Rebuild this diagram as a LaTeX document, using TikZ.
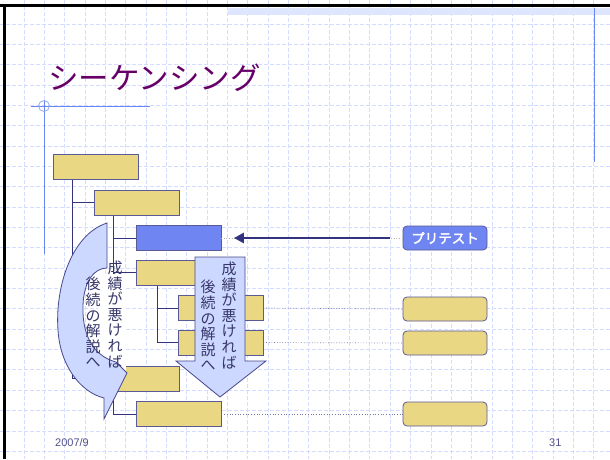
\documentclass[tikz,border=0pt]{standalone}
\usepackage{fontspec}
\setmainfont{Liberation Sans}
\newfontfamily\jp{Noto Sans CJK JP}
\newfontfamily\jpb[FakeBold=2.5]{Noto Sans CJK JP}
\usetikzlibrary{arrows.meta}
\definecolor{tanfill}{RGB}{234,215,132}
\definecolor{boxline}{RGB}{90,90,150}
\definecolor{bluebox}{RGB}{111,134,242}
\definecolor{arrowfill}{RGB}{204,216,255}
\definecolor{arrowline}{RGB}{72,72,140}
\definecolor{connc}{RGB}{51,51,128}
\definecolor{dotc}{RGB}{120,120,165}
\definecolor{titlec}{RGB}{102,0,102}
\definecolor{footc}{RGB}{80,80,140}
\definecolor{gridc}{RGB}{212,220,255}
\definecolor{bandc}{RGB}{222,229,255}
\definecolor{tmplc}{RGB}{105,135,240}
\definecolor{vtextc}{RGB}{55,55,105}
\begin{document}
\begin{tikzpicture}[x=1pt,y=-1pt,
  tanbox/.style={draw=boxline,fill=tanfill,minimum width=84pt,minimum height=24pt,inner sep=0pt,line width=0.8pt},
  rtan/.style={tanbox,rounded corners=4pt},
  conn/.style={draw=connc,line width=0.9pt},
  dotline/.style={draw=dotc,line width=0.7pt,dotted},
  gridline/.style={draw=gridc,line width=1pt,dash pattern=on 4pt off 2pt},
  vtext/.style={font=\jp\fontsize{15}{15.6}\selectfont,text=vtextc,align=center,inner sep=0pt,anchor=south},
  blockarrow/.style={draw=arrowline,fill=arrowfill,line width=0.8pt,line join=miter}]
\useasboundingbox (0,0) rectangle (610,459);
\fill[white] (0,0) rectangle (610,459);
% grid
\foreach \i in {0,...,28} \draw[gridline] ({24+20.35*\i},0) -- ++(0,459);
\foreach \i in {0,...,21} \draw[gridline] (0,{24+20.35*\i}) -- ++(610,0);
% template decorations
\fill[bandc] (228,8) rectangle (610,15);
\draw[black,line width=2.6pt] (0,5.5) -- (610,5.5);
\draw[black,line width=2.6pt] (4.3,4.2) -- (4.3,459);
\draw[tmplc,line width=1pt] (594,8) -- (594,162);
\draw[tmplc,line width=1pt] (31,106) -- (150,106);
\draw[tmplc,line width=1pt] (44,100) -- (44,254);
\draw[tmplc!70,line width=0.8pt] (44,106) circle (5.5);
% title
\node[anchor=west,inner sep=0pt,text=titlec,font=\jp\fontsize{30.5}{33}\selectfont] (title) at (48,78) {シーケンシング};
% tree boxes
\node[tanbox] (b1) at (96,167) {};
\node[tanbox] (b2) at (137,202.5) {};
\node[tanbox,fill=bluebox] (b3) at (178.5,238) {};
\node[tanbox] (b4) at (178.5,272.5) {};
\node[tanbox] (b5) at (221,308) {};
\node[tanbox] (b6) at (221,342.5) {};
\node[tanbox] (b7) at (137,378.5) {};
\node[tanbox] (b8) at (179,414) {};
% tree connectors
\draw[conn] ([xshift=19pt]b1.south west) |- (b2.west);
\draw[conn] ([xshift=19pt]b1.south west) |- (b7.west);
\draw[conn] ([xshift=19pt]b2.south west) |- (b3.west);
\draw[conn] ([xshift=19pt]b2.south west) |- (b4.west);
\draw[conn] ([xshift=19pt]b2.south west) |- (b8.west);
\draw[conn] ([xshift=21pt]b4.south west) |- (b5.west);
\draw[conn] ([xshift=21pt]b4.south west) |- (b6.west);
% redraw boxes on top of connectors
\foreach \n in {b1,b2,b4,b5,b6,b7,b8} \draw[draw=boxline,fill=tanfill,line width=0.8pt] (\n.south west) rectangle (\n.north east);
\draw[draw=boxline,fill=bluebox,line width=0.8pt] (b3.south west) rectangle (b3.north east);
% right boxes
\node[rtan,fill=bluebox,text=white,font=\jpb\fontsize{13.5}{15}\selectfont] (pt) at (445,238) {プリテスト};
\node[rtan] (r1) at (445,309) {};
\node[rtan] (r2) at (445,343) {};
\node[rtan] (r3) at (445,414) {};
% dotted links
\draw[dotline,draw=gray!60] (b3.east) -- (pt.west);
\draw[dotline] (b5.east) -- (r1.west);
\draw[dotline] (b6.east) -- (r2.west);
\draw[dotline] (b8.east) -- (r3.west);
% pretest arrow
\draw[connc,line width=2.8pt,-{Triangle[length=10pt,width=10pt]}] ([xshift=-13pt]pt.west) -- ([xshift=13pt]b3.east);
% down block arrow
\draw[blockarrow] (195,257) -- (245,257) -- (245,361) -- (266,361) -- (220,397) -- (176,361) -- (195,361) -- cycle;
\node[vtext] (d1) at (229,369) {成\\績\\が\\悪\\け\\れ\\ば};
\node[vtext] (d2) at (208,371) {後\\続\\の\\解\\説\\へ};
% curved block arrow
\fill[white] (98,273.5) rectangle (126,371);
\draw[blockarrow] (107,223) .. controls (70,235) and (55,290) .. (58,330)
  .. controls (60,365) and (80,392) .. (104,398) -- (104,419) -- (127,373) -- (116,362)
  .. controls (90,355) and (82,330) .. (83,305) .. controls (84,280) and (95,268) .. (107,268) -- cycle;
\node[vtext] (c1) at (115,368) {成\\績\\が\\悪\\け\\れ\\ば};
\node[vtext] (c2) at (93,368) {後\\続\\の\\解\\説\\へ};
% footer
\node[anchor=west,inner sep=0pt,text=footc,font=\fontsize{11}{13}\selectfont] (date) at (55,443) {2007/9};
\node[anchor=west,inner sep=0pt,text=footc,font=\fontsize{11}{13}\selectfont] (pg) at (549,443) {31};
\end{tikzpicture}
\end{document}
